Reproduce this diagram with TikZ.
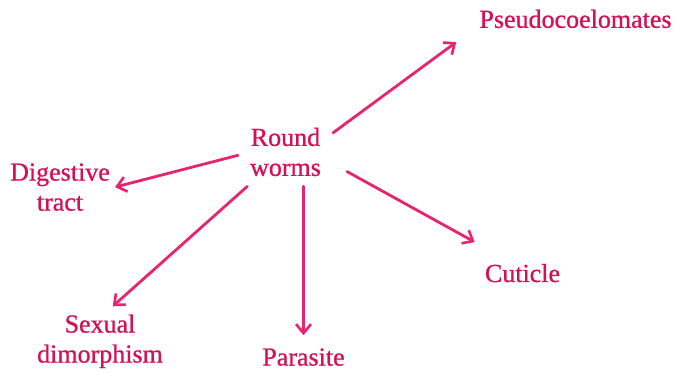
\documentclass[tikz,border=0pt]{standalone}
\usepackage{fontspec}
\setmainfont{Liberation Serif}
\newfontfamily\inkfont[FakeBold=0.8]{Liberation Serif}
\usetikzlibrary{arrows.meta}
\definecolor{wormtext}{RGB}{212,16,86}
\definecolor{wormline}{RGB}{232,36,112}
\tikzset{
  lbl/.style={text=wormtext,align=center,inner sep=0pt,
    font=\inkfont\fontsize{26}{30}\selectfont},
  arr/.style={draw=wormline,line width=2.8pt,line cap=round,
    -{Straight Barb[length=9pt,width=15pt,line width=2.6pt]}}
}
\begin{document}
\begin{tikzpicture}[x=1pt,y=-1pt]
    \useasboundingbox[fill=white] (0,0) rectangle (675,372);
    \node[lbl,inner xsep=12pt,inner ysep=10pt] (rw) at (285.5,152) {Round\\worms};
    \node[lbl,inner xsep=23pt,inner ysep=24pt] (pc) at (575.5,18.9) {Pseudocoelomates};
    \node[lbl,inner xsep=5pt] (dt) at (60,187.1) {Digestive\\tract};
    \node[lbl,inner sep=8pt] (sd) at (100,341.3) {Sexual\\dimorphism};
    \node[lbl,inner ysep=13pt] (pa) at (303.5,357.1) {Parasite};
    \node[lbl,inner xsep=10pt,inner ysep=31pt] (cu) at (522.5,273.1) {Cuticle};
    % arrows out of the centre
    \draw[arr] (rw.22) -- (pc.191);
    \draw[arr] (rw.184) -- (dt.east);
    \draw[arr] (rw.222) -- (sd.70);
    \draw[arr] (pa.north |- rw.south) -- (pa.north);
    \draw[arr,shorten <=16pt] (rw.-14) -- (cu.147);
  \end{tikzpicture}
\end{document}
